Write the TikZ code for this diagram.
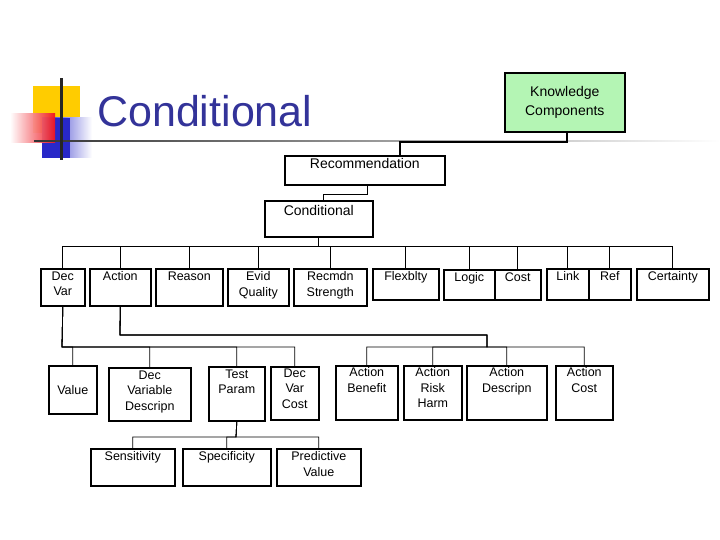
\documentclass[tikz,border=0pt]{standalone}
\usepackage{fontspec}
\setmainfont{Liberation Sans}
\definecolor{kgreen}{RGB}{180,245,180}
\definecolor{tblue}{RGB}{51,51,153}
\definecolor{ylw}{RGB}{255,204,0}
\definecolor{rd}{RGB}{240,20,30}
\definecolor{bl}{RGB}{40,40,200}
\newcommand\bx[6]{\node[box] (#1) at (#2,#3) {\parbox[t][\dimexpr#5pt-#3pt\relax][t]{\dimexpr#4pt-#2pt\relax}{\centering\vspace{3pt}#6}};}
\begin{document}
\begin{tikzpicture}[x=1pt,y=-1pt,
  box/.style={draw,line width=1.6pt,anchor=north west,inner sep=0pt,font=\fontsize{12.5}{15.5}\selectfont},
  con/.style={line width=0.8pt}]
\useasboundingbox (0,0) rectangle (720,540);
% logo
\fill[ylw] (33,86) rectangle (80,133);
\shade[left color=bl,right color=white] (42,118) rectangle (92,158);
\fill[bl] (42,118) rectangle (70,158);
\shade[left color=white,right color=rd,opacity=0.95] (10,114) rectangle (55,143);
\shade[left color=black!80,right color=white] (34,140.5) rectangle (720,142);
\fill[black!85] (60,78) rectangle (62.5,160);
\node[anchor=base west,text=tblue,font=\fontsize{43}{43}\selectfont,inner sep=0pt] (title) at (97,127) {Conditional};
% boxes
\node[box,fill=kgreen,minimum width=120,minimum height=59,align=center,font=\fontsize{14}{19}\selectfont] (kc) at (504,72) {Knowledge\\Components};
\bx{rec}{284}{155}{444}{184}{\fontsize{14}{17}\selectfont Recommendation}
\bx{cond}{264}{200}{372}{236}{\fontsize{14}{17}\selectfont\vspace{2pt}Conditional}
\bx{dv}{40}{268}{84}{305}{Dec\\Var}
\bx{act}{89}{268}{150}{305}{Action}
\bx{rea}{155}{268}{222}{305}{Reason}
\bx{evq}{227}{268}{288}{305}{Evid\\Quality}
\bx{rs}{293}{268}{366}{305}{Recmdn\\Strength}
\bx{flx}{372}{268}{438}{299}{Flexblty}
\bx{log}{443}{269}{494}{299}{Logic}
\bx{cst}{494}{269}{540}{299}{Cost}
\bx{lnk}{546}{268}{588}{299}{Link}
\bx{ref}{588}{268}{630}{299}{Ref}
\bx{cer}{636}{268}{708}{299}{Certainty}
\node[box,minimum width=48,minimum height=48,anchor=north west,font=\fontsize{12.5}{15.5}\selectfont] (val) at (48,365) {Value};
\bx{dvd}{108}{367}{190}{420}{Dec\\Variable\\Descripn}
\bx{tp}{208}{366}{264}{420}{Test\\Param}
\bx{dvc}{270}{366}{318}{419}{\vspace{-1pt}Dec\\Var\\Cost}
\bx{ab}{335}{365}{397}{419}{\vspace{-1pt}Action\\Benefit}
\bx{arh}{403}{365}{461}{419}{\vspace{-1pt}Action\\Risk\\Harm}
\bx{ad}{466}{365}{546}{419}{\vspace{-1pt}Action\\Descripn}
\bx{ac}{555}{365}{612}{419}{\vspace{-1pt}Action\\Cost}
\bx{sen}{90}{448}{174}{485}{Sensitivity}
\bx{spe}{182}{448}{270}{485}{Specificity}
\bx{pv}{276}{448}{360}{485}{Predictive\\Value}
% connectors
\coordinate (k1) at (567,142);
\draw[line width=1.6pt] (kc.south-|k1) -- (k1) -| (400,155) -- (rec.north-|400,0);
\coordinate (r1) at (367,194);
\draw[con] (rec.south-|r1) -- (r1) -| (cond.north-|323,0);
\coordinate (bus) at (318,246);
\foreach \n in {dv,act,rea,evq,rs,flx,log,cst,lnk,ref,cer}
  \draw[con] (cond.south-|bus) -- (bus) -| (\n.north);
\coordinate (b2) at (62,347);
\foreach \n in {val,dvd,tp,dvc}
  \draw[con] (dv.south) -- (b2) -| (\n.north);
\coordinate (a1) at (120,335);
\coordinate (a2) at (487,347);
\foreach \n in {ab,arh,ad,ac}
  \draw[con] (act.south) -- (a1) -| (a2) -| (\n.north);
\coordinate (t1) at (236,437);
\foreach \n in {sen,spe,pv}
  \draw[con] (tp.south) -- (t1) -| (\n.north);
\end{tikzpicture}
\end{document}
